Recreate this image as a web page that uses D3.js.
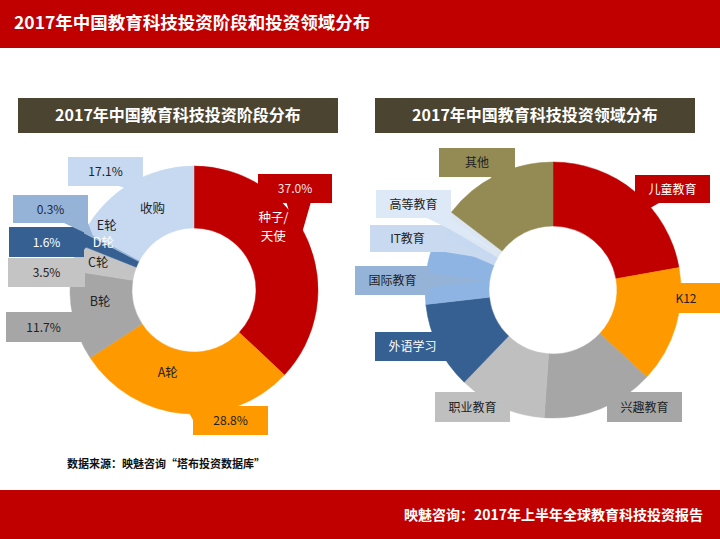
<!DOCTYPE html>
<html>
<head>
<meta charset="utf-8">
<script src="https://cdn.jsdelivr.net/npm/d3@7"></script>
<style>
  body { margin: 0; background: #fff; }
  svg text { font-family: "Noto Sans CJK SC", "Noto Sans", sans-serif; }
</style>
</head>
<body>
<div class="canvas"></div>
<script>
// data
const stageNames = ['种子/天使', 'A轮', 'B轮', 'C轮', 'D轮', 'E轮', '收购'];
const stageValues = [37.0, 28.8, 11.7, 3.5, 1.6, 0.3, 17.1];

const fieldNames = ['儿童教育', 'K12', '兴趣教育', '职业教育', '外语学习', '国际教育', 'IT教育', '高等教育', '其他'];
const fieldValues = [22.2, 14.7, 14.2, 11.1, 11.0, 8.2, 2.1, 1.9, 14.6];

const mainTitle = '2017年中国教育科技投资阶段和投资领域分布';
const leftTitle = '2017年中国教育科技投资阶段分布';
const rightTitle = '2017年中国教育科技投资领域分布';
const sourceText = '数据来源：映魅咨询“塔布投资数据库”';
const footerText = '映魅咨询：2017年上半年全球教育科技投资报告';

const W = 720, H = 539;

const svg = d3.select('.canvas')
  .append('svg')
  .attr('width', W)
  .attr('height', H);

// header / footer bands
svg.append('rect').attr('x', 0).attr('y', 0).attr('width', W).attr('height', 48).attr('fill', '#C00000');
svg.append('text').attr('x', 14).attr('y', 29)
  .attr('fill', '#fff').attr('font-size', 17.5).attr('font-weight', 'bold')
  .text(mainTitle);

svg.append('rect').attr('x', 0).attr('y', 490).attr('width', W).attr('height', H - 490).attr('fill', '#C00000');
svg.append('text').attr('x', 703).attr('y', 520).attr('text-anchor', 'end')
  .attr('fill', '#fff').attr('font-size', 14).attr('font-weight', 'bold')
  .text(footerText);

svg.append('text').attr('x', 67).attr('y', 468)
  .attr('fill', '#111').attr('font-size', 11).attr('font-weight', 'bold')
  .text(sourceText);

// sub title banners
const banner = (x, label) => {
  svg.append('rect').attr('x', x).attr('y', 98).attr('width', 320).attr('height', 35).attr('fill', '#4B4430');
  svg.append('text').attr('x', x + 160).attr('y', 121).attr('text-anchor', 'middle')
    .attr('fill', '#fff').attr('font-size', 16).attr('font-weight', 'bold')
    .text(label);
};
banner(18, leftTitle);
banner(375, rightTitle);

// callout shape: box plus a wedge pointing at tip
const calloutPath = (b, tip) => {
  const cx = b.x + b.w / 2, cy = b.y + b.h / 2;
  const dx = tip[0] - cx, dy = tip[1] - cy;
  const TL = [b.x, b.y], TR = [b.x + b.w, b.y], BR = [b.x + b.w, b.y + b.h], BL = [b.x, b.y + b.h];
  let pts = [TL, TR, BR, BL];
  const inside = Math.abs(dx) <= b.w / 2 && Math.abs(dy) <= b.h / 2;
  if (!inside) {
    const clampAlong = (v, lo, hi, half) => Math.max(lo + half, Math.min(hi - half, v));
    if (Math.abs(dx) / b.w > Math.abs(dy) / b.h) {
      const half = Math.min(7, b.h * 0.3);
      const m = clampAlong(tip[1], b.y, b.y + b.h, half);
      if (dx > 0) pts = [TL, TR, [TR[0], m - half], tip, [TR[0], m + half], BR, BL];
      else pts = [TL, TR, BR, BL, [BL[0], m + half], tip, [BL[0], m - half]];
    } else {
      const half = Math.min(12, b.w * 0.2);
      const m = clampAlong(tip[0], b.x, b.x + b.w, half);
      if (dy > 0) pts = [TL, TR, BR, [m + half, BR[1]], tip, [m - half, BR[1]], BL];
      else pts = [TL, [m - half, TL[1]], tip, [m + half, TL[1]], TR, BR, BL];
    }
  }
  return 'M' + pts.map(p => p.join(',')).join('L') + 'Z';
};

const pie = d3.pie().sort(null).value(d => d.value);

// draws one donut with callouts
const drawDonut = (cfg) => {
  const data = cfg.names.map((n, i) => ({ name: n, value: cfg.values[i], colour: cfg.colours[i] }));
  const arcs = pie(data);
  const arcPath = d3.arc().innerRadius(cfg.inner).outerRadius(cfg.outer);

  const graph = svg.append('g')
    .attr('transform', `translate(${cfg.cx}, ${cfg.cy})`);

  graph.selectAll('path')
    .data(arcs)
    .enter()
    .append('path')
      .attr('d', arcPath)
      .attr('fill', d => d.data.colour)
      .attr('stroke', d => d.data.colour)
      .attr('stroke-width', 0.5);

  // callout boxes
  const boxG = svg.append('g');
  arcs.forEach((d, i) => {
    const b = cfg.boxes[i];
    const mid = (d.startAngle + d.endAngle) / 2;
    const tip = [cfg.cx + cfg.tipR * Math.sin(mid), cfg.cy - cfg.tipR * Math.cos(mid)];
    boxG.append('path')
      .attr('d', calloutPath(b, tip))
      .attr('fill', cfg.boxColours ? cfg.boxColours[i] : d.data.colour);
    boxG.append('text')
      .attr('x', b.x + b.w / 2).attr('y', b.y + b.h / 2 + 4.5)
      .attr('text-anchor', 'middle')
      .attr('font-size', 12)
      .attr('fill', cfg.boxText[i])
      .text(cfg.boxLabel(d));
  });

  return arcs;
};

// left donut: investment stages
const stageColours = ['#C00000', '#FF9900', '#A6A6A6', '#C4C4C4', '#366092', '#95B3D7', '#C6D9F0'];
const leftArcs = drawDonut({
  names: stageNames, values: stageValues, colours: stageColours,
  cx: 194, cy: 290, inner: 62, outer: 124, tipR: 114,
  boxes: [
    { x: 258, y: 174, w: 74, h: 29 },
    { x: 193, y: 406, w: 75, h: 29 },
    { x: 6, y: 312, w: 75, h: 30 },
    { x: 8, y: 258, w: 77, h: 29 },
    { x: 9, y: 227, w: 75, h: 30 },
    { x: 13, y: 195, w: 75, h: 28 },
    { x: 68, y: 157, w: 75, h: 29 }
  ],
  boxText: ['#F6E4E4', '#222', '#222', '#222', '#fff', '#1F2A44', '#222'],
  boxLabel: d => d.data.value.toFixed(1) + '%'
});

// category labels inside the left ring
const labelShift = {
  '种子/天使': [-6, -26], 'A轮': [-18, -10], 'B轮': [-3, -8], 'C轮': [-6, -3],
  'D轮': [-6, -9], 'E轮': [-5, -21], '收购': [6, -2]
};
const labelColour = { '种子/天使': '#fff', 'D轮': '#fff' };
leftArcs.forEach(d => {
  const mid = (d.startAngle + d.endAngle) / 2;
  const s = labelShift[d.data.name];
  const x = 194 + 93 * Math.sin(mid) + s[0];
  const y = 290 - 93 * Math.cos(mid) + s[1];
  const lines = d.data.name === '种子/天使' ? ['种子/', '天使'] : [d.data.name];
  lines.forEach((l, k) => {
    svg.append('text')
      .attr('text-anchor', 'middle')
      .attr('font-size', 12.5)
      .attr('fill', labelColour[d.data.name] || '#222')
      .attr('x', x)
      .attr('y', y + 4.5 + (k - (lines.length - 1) / 2) * 19)
      .text(l);
  });
});

// right donut: investment fields
const fieldColours = ['#C00000', '#FF9900', '#A6A6A6', '#BFBFBF', '#366092', '#8DB4E2', '#C6D9F0', '#DCE6F2', '#948A54'];
drawDonut({
  names: fieldNames, values: fieldValues, colours: fieldColours,
  cx: 553, cy: 290, inner: 64, outer: 128, tipR: 67,
  boxes: [
    { x: 635, y: 175, w: 75, h: 28 },
    { x: 673, y: 283, w: 50, h: 30 },
    { x: 607, y: 392, w: 75, h: 30 },
    { x: 435, y: 392, w: 75, h: 30 },
    { x: 375, y: 332, w: 75, h: 29 },
    { x: 355, y: 266, w: 75, h: 29 },
    { x: 370, y: 225, w: 75, h: 27 },
    { x: 376, y: 190, w: 75, h: 28 },
    { x: 439, y: 148, w: 76, h: 29 }
  ],
  boxColours: ['#C00000', '#FF9900', '#A6A6A6', '#BFBFBF', '#366092', '#95B3D7', '#C9DAF0', '#DDE9F6', '#948A54'],
  boxText: ['#fff', '#222', '#222', '#222', '#fff', '#222', '#222', '#222', '#222'],
  boxLabel: d => d.data.name
});

// K12 label sits to the left part of its box
svg.selectAll('text').filter(function() { return this.textContent === 'K12'; })
  .attr('x', 686);
</script>
</body>
</html>
